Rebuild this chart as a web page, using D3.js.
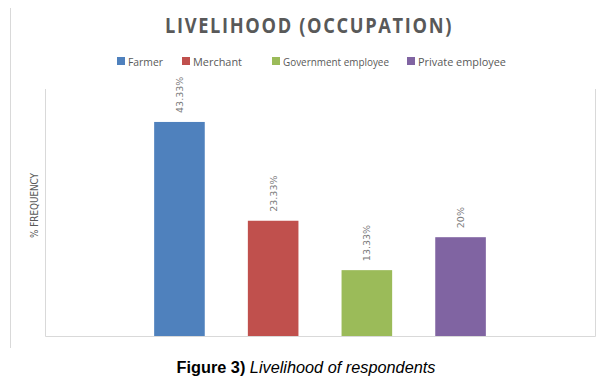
<!DOCTYPE html>
<html><head><meta charset="utf-8">
<script src="https://cdn.jsdelivr.net/npm/d3@7"></script>
<style>body{margin:0;background:#fff;}svg{display:block;}</style>
</head><body>
<svg id="c" width="610" height="383"></svg>
<script>
const categories = ["Farmer", "Merchant", "Government employee", "Private employee"];
const values = [43.33, 23.33, 13.33, 20];
const labels = ["43.33%", "23.33%", "13.33%", "20%"];
const colors = ["#4f81bd", "#c0504d", "#9bbb59", "#8064a2"];
const yDomain = [0, 50];

const svg = d3.select("#c");
const L = 45, R = 595, T = 89, B = 336;

const x = d3.scaleBand().domain(categories).range([L, R]).paddingInner(0.46).paddingOuter(1.165);
const y = d3.scaleLinear().domain(yDomain).range([B, T]);

// outer border (left)
svg.append("line").attr("x1", 10.5).attr("x2", 10.5).attr("y1", 8).attr("y2", 348)
  .attr("stroke", "#d9d9d9").attr("stroke-width", 1);

// plot frame
svg.append("path").attr("d", `M${L+0.5},${T}V${B+0.5}H${R+0.5}V${T}`)
  .attr("fill", "none").attr("stroke", "#d9d9d9").attr("stroke-width", 1);

// title
svg.append("text").attr("x", 309).attr("y", 33).attr("text-anchor", "middle")
  .attr("font-family", "Open Sans, sans-serif").attr("font-weight", 700).attr("font-size", 22)
  .attr("letter-spacing", 2).attr("fill", "#595959")
  .attr("textLength", 288).attr("lengthAdjust", "spacingAndGlyphs")
  .text("LIVELIHOOD (OCCUPATION)");

// legend
const legX = [117, 182, 272, 407];
const legW = [35, 49, 106, 88];
const lg = svg.append("g");
categories.forEach((c, i) => {
  lg.append("rect").attr("x", legX[i]).attr("y", 57).attr("width", 8).attr("height", 8).attr("fill", colors[i]);
  lg.append("text").attr("x", legX[i] + 11).attr("y", 65.5).attr("font-family", "Open Sans, sans-serif")
    .attr("font-size", 11.5).attr("fill", "#595959")
    .attr("textLength", legW[i]).attr("lengthAdjust", "spacingAndGlyphs").text(c);
});

// bars
svg.selectAll("rect.bar").data(values).join("rect").attr("class", "bar")
  .attr("x", (d, i) => x(categories[i])).attr("width", x.bandwidth())
  .attr("y", d => y(d)).attr("height", d => B - y(d))
  .attr("fill", (d, i) => colors[i]);

// data labels
svg.selectAll("text.lbl").data(values).join("text").attr("class", "lbl")
  .attr("transform", (d, i) => `translate(${x(categories[i]) + x.bandwidth()/2 + 3.5},${y(d) - 9}) rotate(-90)`)
  .attr("font-family", "DejaVu Sans, sans-serif").attr("font-size", 9.5).attr("fill", "#7a7a7a")
  .text((d, i) => labels[i]);

// y axis title
svg.append("text").attr("transform", "translate(37.5,205.5) rotate(-90)").attr("text-anchor", "middle")
  .attr("font-family", "DejaVu Sans, sans-serif").attr("font-size", 10).attr("fill", "#595959")
  .attr("textLength", 65).attr("lengthAdjust", "spacingAndGlyphs")
  .text("% FREQUENCY");

// caption
const cap = svg.append("text").attr("x", 306).attr("y", 373).attr("text-anchor", "middle")
  .attr("font-family", "Liberation Sans, Arial, sans-serif").attr("font-size", 16.3).attr("fill", "#000");
cap.append("tspan").attr("font-weight", 700).text("Figure 3)");
cap.append("tspan").attr("font-style", "italic").text(" Livelihood of respondents");
</script>
</body></html>
